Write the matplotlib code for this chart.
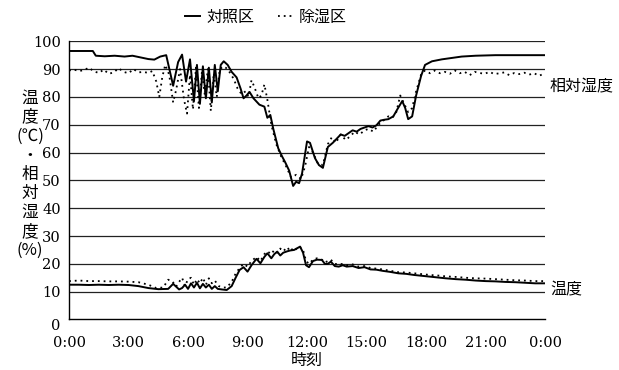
import matplotlib
matplotlib.use("Agg")
import matplotlib.pyplot as plt
from matplotlib.lines import Line2D

# 湿度 対照区
hc_t = [0.0, 1.2, 1.35, 1.8, 2.3, 2.8, 3.2, 3.6, 4.0, 4.3, 4.6, 4.9,
        5.25, 5.5, 5.7, 5.9, 6.1, 6.3, 6.45, 6.6, 6.75, 6.9, 7.05, 7.2, 7.35, 7.5, 7.65, 7.8,
        8.0, 8.2, 8.45, 8.65, 8.8, 8.95, 9.1, 9.3, 9.6, 9.85, 10.0, 10.15, 10.3, 10.55, 10.75,
        10.9, 11.1, 11.3, 11.45, 11.6, 11.75, 12.0, 12.15, 12.4, 12.6, 12.8, 13.05, 13.3, 13.5,
        13.7, 13.9, 14.1, 14.3, 14.5, 14.7, 14.9, 15.1, 15.3, 15.5, 15.7, 15.9, 16.1, 16.35,
        16.55, 16.8, 16.95, 17.1, 17.3, 17.5, 17.75, 17.95, 18.3, 18.8, 19.3, 19.8, 20.5, 21.5,
        22.5, 24.0]
hc_v = [96.5, 96.5, 94.8, 94.6, 94.8, 94.5, 94.8, 94.2, 93.6, 93.4, 94.5, 95.0,
        84.0, 92.5, 95.2, 85.5, 93.5, 78.5, 91.5, 77.5, 91.0, 79.5, 90.5, 78.0, 91.5, 82.0, 91.5, 92.8,
        91.5, 89.0, 87.0, 83.0, 79.5, 80.5, 81.8, 79.5, 77.2, 76.5, 72.5, 73.5, 68.5, 61.5, 58.5,
        56.5, 53.5, 48.0, 49.5, 49.0, 52.5, 64.0, 63.5, 58.0, 55.5, 54.5, 62.0, 63.5, 65.0,
        66.5, 66.0, 67.0, 68.0, 67.5, 68.5, 69.0, 69.5, 69.0, 69.8, 71.5, 71.8, 72.0, 73.0,
        75.5, 78.5, 76.0, 72.0, 73.0, 80.5, 87.5, 91.5, 92.8, 93.5, 94.0, 94.5, 94.8, 95.0,
        95.0, 95.0]

# 湿度 除湿区
hd_t = [0.0, 0.25, 0.5, 0.75, 1.0, 1.25, 1.5, 1.75, 2.0, 2.25, 2.5, 2.75, 3.0, 3.25, 3.5, 3.75,
        4.0, 4.2, 4.4, 4.55, 4.7, 4.85, 5.05, 5.25, 5.4, 5.6, 5.8, 5.95, 6.1, 6.25, 6.4, 6.55,
        6.7, 6.85, 7.0, 7.15, 7.3, 7.45, 7.6, 7.8, 8.0, 8.3, 8.5, 8.7, 8.9, 9.05, 9.2, 9.35,
        9.55, 9.7, 9.85, 10.0, 10.2, 10.45, 10.7, 10.95, 11.2, 11.45, 11.7, 11.9, 12.1, 12.3,
        12.55, 12.8, 13.05, 13.25, 13.45, 13.7, 13.95, 14.2, 14.4, 14.65, 14.9, 15.1, 15.35,
        15.6, 15.85, 16.1, 16.3, 16.5, 16.7, 16.9, 17.1, 17.3, 17.5, 17.75, 17.95, 18.2, 18.45,
        18.7, 18.95, 19.2, 19.45, 19.7, 19.95, 20.2, 20.45, 20.7, 20.95, 21.2, 21.45, 21.7,
        21.95, 22.2, 22.45, 22.7, 22.95, 23.2, 23.45, 23.7, 24.0]
hd_v = [89.5, 89.8, 89.3, 89.6, 90.5, 89.2, 88.6, 89.8, 88.3, 88.8, 90.3, 89.0, 88.5, 90.0, 88.8, 89.0,
        88.6, 89.3, 85.5, 80.0, 87.0, 91.5, 88.0, 78.0, 82.5, 90.0, 79.0, 74.0, 88.0, 75.5, 90.5, 76.0,
        89.0, 80.5, 90.0, 75.0, 88.5, 80.0, 90.0, 91.0, 90.0, 86.5, 83.0, 81.0, 82.0, 80.0, 86.0, 83.5,
        79.5, 80.5, 84.5, 79.0, 70.0, 63.0, 58.5, 55.0, 51.0, 52.0, 50.5, 55.0, 62.0, 60.0,
        56.0, 55.5, 63.0, 65.5, 63.5, 66.5, 64.5, 66.0, 67.5, 66.5, 68.0, 68.5, 67.5,
        70.0, 71.5, 73.0, 72.5, 74.5, 80.5, 77.5, 74.5, 76.0, 82.0, 88.0, 89.5, 88.5, 89.5,
        88.5, 89.0, 88.3, 89.5, 88.5, 89.0, 87.8, 89.0, 88.6, 88.3, 89.0, 88.2, 88.5,
        88.8, 87.8, 88.6, 88.2, 88.7, 88.0, 88.5, 87.6, 88.5]

# 温度 対照区
tc_t = [0.0, 0.5, 1.0, 1.5, 2.0, 2.5, 3.0, 3.5, 4.0, 4.5, 5.0, 5.25, 5.4, 5.55, 5.7, 5.85, 6.0,
        6.15, 6.3, 6.45, 6.6, 6.75, 6.9, 7.05, 7.2, 7.35, 7.5, 7.7, 7.95, 8.2, 8.4, 8.6, 8.8,
        9.0, 9.2, 9.45, 9.65, 9.85, 10.0, 10.2, 10.35, 10.5, 10.65, 10.8, 11.0, 11.15, 11.35,
        11.5, 11.65, 11.8, 11.95, 12.1, 12.3, 12.5, 12.75, 12.9, 13.05, 13.2, 13.4, 13.6, 13.8,
        14.0, 14.3, 14.6, 14.9, 15.2, 15.5, 15.8, 16.2, 16.6, 17.0, 17.4, 17.8, 18.2, 18.6,
        19.0, 19.5, 20.0, 20.5, 21.0, 21.5, 22.0, 22.5, 23.0, 23.5, 24.0]
tc_v = [12.5, 12.5, 12.4, 12.5, 12.4, 12.5, 12.4, 12.0, 11.3, 10.9, 11.0, 12.8, 11.8, 10.8, 11.3, 12.5, 11.0,
        13.0, 11.5, 13.2, 11.2, 12.8, 11.5, 12.5, 11.0, 12.0, 11.0, 10.8, 10.6, 12.0, 15.0, 17.8, 18.8,
        17.2, 19.5, 21.8, 20.2, 22.5, 23.8, 22.0, 23.5, 24.4, 23.0, 24.0, 24.5, 24.8, 25.0,
        25.6, 26.2, 24.0, 19.5, 18.8, 21.0, 21.5, 21.4, 20.0, 20.0, 20.8, 19.2, 19.0, 19.5,
        19.0, 19.2, 18.5, 18.8, 18.0, 17.9, 17.5, 17.1, 16.6, 16.4, 16.0, 15.7, 15.4, 15.1,
        14.8, 14.5, 14.3, 14.0, 13.8, 13.7, 13.5, 13.4, 13.2, 13.0, 13.0]

# 温度 除湿区
td_t = [0.0, 0.5, 1.0, 1.5, 2.0, 2.5, 3.0, 3.5, 4.0, 4.4, 4.75, 5.0, 5.2, 5.4, 5.55, 5.7, 5.85,
        6.0, 6.15, 6.3, 6.45, 6.6, 6.75, 6.9, 7.05, 7.2, 7.35, 7.55, 7.75, 7.95, 8.2, 8.4, 8.6,
        8.8, 9.0, 9.2, 9.45, 9.65, 9.85, 10.0, 10.2, 10.35, 10.5, 10.65, 10.8, 11.0, 11.15,
        11.35, 11.5, 11.65, 11.8, 11.95, 12.1, 12.3, 12.5, 12.75, 12.9, 13.05, 13.2, 13.4,
        13.6, 13.8, 14.0, 14.3, 14.6, 14.9, 15.2, 15.5, 15.8, 16.2, 16.6, 17.0, 17.4, 17.8,
        18.2, 18.6, 19.0, 19.5, 20.0, 20.5, 21.0, 21.5, 22.0, 22.5, 23.0, 23.5, 24.0]
td_v = [13.8, 14.0, 13.8, 13.8, 13.7, 13.7, 13.6, 13.4, 12.5, 11.3, 11.5, 14.3, 13.8, 11.8, 13.5, 15.0, 12.0,
        14.5, 15.0, 12.5, 14.5, 13.0, 15.0, 12.5, 14.8, 13.0, 14.0, 12.0, 11.5, 11.5, 13.5, 16.5, 18.5,
        20.0, 19.0, 21.0, 22.5, 21.0, 23.5, 24.5, 23.5, 25.0, 24.0, 25.5, 24.5, 26.0, 24.5,
        26.0, 25.0, 26.0, 25.0, 21.0, 20.0, 21.5, 22.0, 21.5, 20.5, 21.0, 21.5, 20.0,
        19.8, 20.0, 19.5, 19.8, 19.0, 19.2, 18.5, 18.3, 18.0, 17.5, 17.0, 16.9, 16.6, 16.3,
        16.0, 15.8, 15.5, 15.3, 15.0, 14.8, 14.7, 14.5, 14.3, 14.1, 14.0, 13.8, 13.8]

x_ticks = [0, 3, 6, 9, 12, 15, 18, 21, 24]
x_labels = ["0:00", "3:00", "6:00", "9:00", "12:00", "15:00", "18:00", "21:00", "0:00"]
y_ticks = list(range(0, 101, 10))
ylabel_chars = ["温", "度", "(℃)", "・", "相", "対", "湿", "度", "(%)"]

plt.rcParams["font.family"] = ["DejaVu Serif", "Noto Sans CJK JP", "DejaVu Sans"]
jp = ["Noto Sans CJK JP", "DejaVu Sans"]

fig = plt.figure(figsize=(6.19, 3.70), dpi=100)
ax = fig.add_axes([0.1115, 0.1365, 0.769, 0.752])

for v in y_ticks[1:]:
    ax.axhline(v, color="#222222", lw=0.9, zorder=1)

dot = (0, (1, 2.2))
ax.plot(hc_t, hc_v, color="black", lw=1.4, zorder=3)
ax.plot(hd_t, hd_v, color="black", lw=1.3, linestyle=dot, zorder=3)
ax.plot(tc_t, tc_v, color="black", lw=1.4, zorder=3)
ax.plot(td_t, td_v, color="black", lw=1.3, linestyle=dot, zorder=3)

ax.set_xlim(0, 24)
ax.set_ylim(0, 100)
ax.set_xticks(x_ticks)
ax.set_xticklabels(x_labels)
ax.set_yticks(y_ticks)
ax.tick_params(length=0, labelsize=10.5)
ax.tick_params(axis="x", pad=12)
ax.tick_params(axis="y", pad=6)
for lbl in ax.get_yticklabels():
    if lbl.get_text() == "0":
        lbl.set_va("top")
for s in ["top", "right"]:
    ax.spines[s].set_visible(False)
for s in ["left", "bottom"]:
    ax.spines[s].set_linewidth(1.0)

ax.set_xlabel("時刻", fontsize=11.5, labelpad=1, family=jp)

ax.text(24.25, 83.6, "相対湿度", fontsize=11.5, va="center", ha="left", clip_on=False, family=jp)
ax.text(24.25, 10.6, "温度", fontsize=11.5, va="center", ha="left", clip_on=False, family=jp)

# 縦書きのラベル
for i, ch in enumerate(ylabel_chars):
    fig.text(30 / 619, 1 - (98 + i * 19.1) / 370, ch, fontsize=12,
             ha="center", va="center", family=jp)

handles = [Line2D([], [], color="black", lw=1.4),
           Line2D([], [], color="black", lw=1.3, linestyle=dot)]
fig.legend(handles, ["対照区", "除湿区"], loc="center", bbox_to_anchor=(0.43, 0.953),
           ncol=2, frameon=False, prop={"family": jp, "size": 11.5},
           handlelength=0.9, handletextpad=0.4, columnspacing=1.5)

fig.savefig("out.png", dpi=100)
